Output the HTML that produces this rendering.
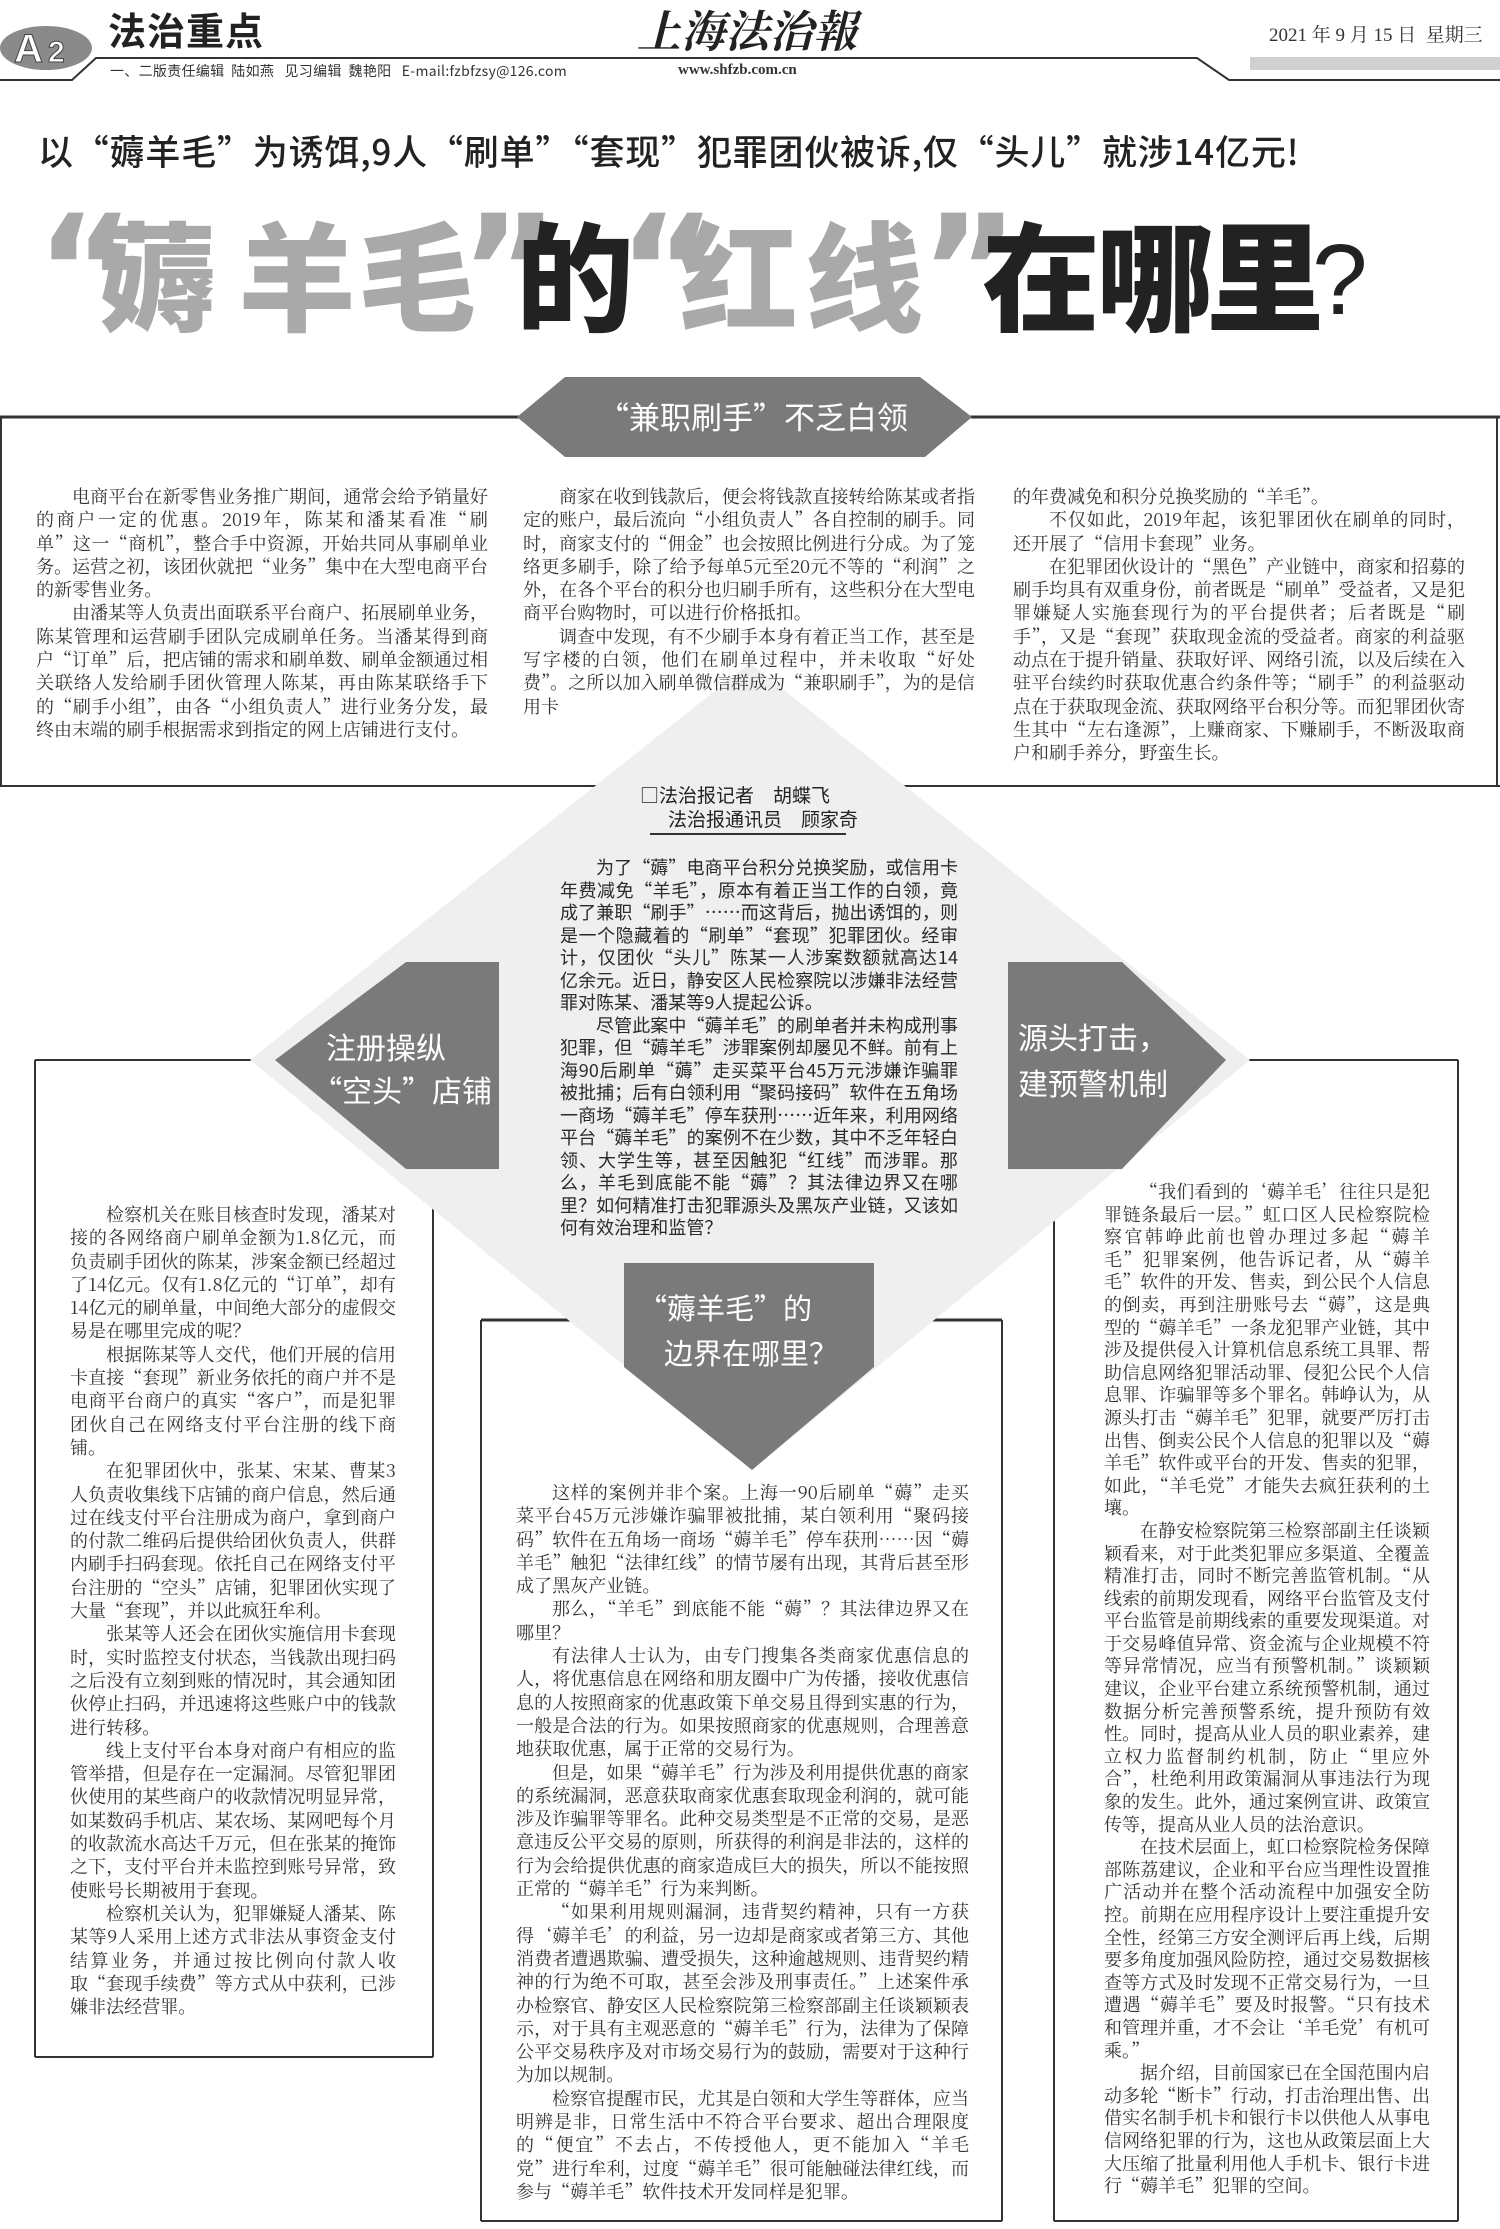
<!DOCTYPE html>
<html><head><meta charset="utf-8">
<style>
*{margin:0;padding:0;box-sizing:border-box}
html,body{width:1500px;height:2229px;background:#fff;overflow:hidden}
body{position:relative;font-family:"Noto Serif CJK SC","Liberation Serif",serif;color:#333}
.a{position:absolute}
.sans{font-family:"Noto Sans CJK SC","Liberation Sans",sans-serif}
.col p{text-align:justify;font-size:18px;letter-spacing:0.05px;line-height:23.3px;text-indent:36px}
.dia p{line-height:22.5px;font-family:"Noto Sans CJK SC","Liberation Sans",sans-serif;color:#2a2a2a}
.ban{color:#fff;font-family:"Noto Sans CJK SC","Liberation Sans",sans-serif;white-space:nowrap}
.t{position:absolute;top:196px;font-size:118px;line-height:150px;font-weight:900;font-family:"Noto Sans CJK SC",sans-serif}
.q{position:absolute;top:196px;font-size:150px;line-height:150px;font-weight:bold;font-family:"DejaVu Sans",sans-serif;color:#a9a9a9}
.g{color:#a9a9a9}.d{color:#222}
</style></head><body>

<svg class="a" style="left:0;top:0" width="1500" height="90">
<ellipse cx="46" cy="48" rx="46" ry="22" fill="#8a8a8a"/>
<text x="14" y="62" font-family="Liberation Sans" font-size="40" font-weight="bold" fill="#fff" stroke="#444" stroke-width="1">A</text>
<text x="48" y="62" font-family="Liberation Sans" font-size="30" font-weight="bold" fill="#fff" stroke="#444" stroke-width="1">2</text>
<polyline points="0,80 72,80 96,58 1197,58 1229,80 1500,80" fill="none" stroke="#333" stroke-width="2"/>
<rect x="1250" y="57" width="250" height="13" fill="#d0d0d0"/>
</svg>
<div class="a sans" style="left:108px;top:4px;font-size:38px;line-height:50px;font-weight:bold;letter-spacing:1px;color:#222">法治重点</div>
<div class="a" style="left:637px;top:0px;font-size:44px;line-height:56px;font-weight:bold;font-style:italic;color:#222;font-family:'Noto Serif CJK SC',serif">上海法治報</div>
<div class="a" style="left:1269px;top:22px;font-size:19px;line-height:28px;color:#333;white-space:nowrap;font-family:'Liberation Serif','Noto Serif CJK SC',serif">2021 年 9 月 15 日 &nbsp;星期三</div>
<div class="a sans" style="left:110px;top:61px;font-size:14px;line-height:20px;color:#333;white-space:nowrap;letter-spacing:0.3px">一、二版责任编辑 &nbsp;陆如燕 &nbsp;&nbsp;见习编辑 &nbsp;魏艳阳 &nbsp;&nbsp;E-mail:fzbfzsy@126.com</div>
<div class="a" style="left:678px;top:62px;font-size:15px;font-weight:bold;color:#333;font-family:'Liberation Serif',serif">www.shfzb.com.cn</div>

<div class="a sans" style="left:38px;top:126px;font-size:35px;line-height:50px;color:#222;white-space:nowrap;font-weight:500;letter-spacing:0.8px">以“薅羊毛”为诱饵,9人“刷单”“套现”犯罪团伙被诉,仅“头儿”就涉14亿元!</div>

<span class="q" style="left:36px">“</span>
<span class="t g" style="left:98px">薅</span>
<span class="t g" style="left:238px">羊</span>
<span class="t g" style="left:358px">毛</span>
<span class="q" style="left:460px">”</span>
<span class="t d" style="left:516px">的</span>
<span class="q" style="left:618px">“</span>
<span class="t g" style="left:680px">红</span>
<span class="t g" style="left:805px">线</span>
<span class="q" style="left:920px">”</span>
<span class="t d" style="left:982px">在</span>
<span class="t d" style="left:1096px">哪</span>
<span class="t d" style="left:1206px">里</span>
<span class="a" style="left:1312px;top:225px;font-size:100px;line-height:110px;color:#222;font-family:'Liberation Sans',sans-serif">?</span>

<svg class="a" style="left:0;top:0" width="1500" height="2229">
<line x1="0" y1="417" x2="1500" y2="417" stroke="#333" stroke-width="3"/>
<line x1="1" y1="417" x2="1" y2="786" stroke="#333" stroke-width="2"/>
<line x1="1497" y1="417" x2="1497" y2="786" stroke="#333" stroke-width="2"/>
<line x1="0" y1="786" x2="1500" y2="786" stroke="#333" stroke-width="2"/>
<line x1="35" y1="1060" x2="300" y2="1060" stroke="#333" stroke-width="2"/>
<line x1="35" y1="1060" x2="35" y2="2057" stroke="#333" stroke-width="2"/>
<line x1="433" y1="1060" x2="433" y2="2057" stroke="#333" stroke-width="2"/>
<line x1="35" y1="2057" x2="433" y2="2057" stroke="#333" stroke-width="2"/>
<line x1="1200" y1="1060" x2="1458" y2="1060" stroke="#333" stroke-width="2"/>
<line x1="1458" y1="1060" x2="1458" y2="2221" stroke="#333" stroke-width="2"/>
<line x1="1054" y1="1060" x2="1054" y2="2221" stroke="#333" stroke-width="2"/>
<line x1="1054" y1="2221" x2="1458" y2="2221" stroke="#333" stroke-width="2"/>
<line x1="481" y1="1320" x2="1002" y2="1320" stroke="#333" stroke-width="3"/>
<line x1="481" y1="1320" x2="481" y2="2221" stroke="#333" stroke-width="2"/>
<line x1="1002" y1="1320" x2="1002" y2="2221" stroke="#333" stroke-width="2"/>
<line x1="481" y1="2221" x2="1002" y2="2221" stroke="#333" stroke-width="2"/>
<polygon points="750,663 1250,1060 752,1470 250,1060" fill="#efefef"/>
<polygon points="565,377 920,377 972,417 925,457 565,457 517,417" fill="#7a7a7a"/>
<polygon points="406,962 499,962 499,1169 406,1169 275,1060" fill="#7a7a7a"/>
<polygon points="1008,962 1122,962 1226,1060 1122,1169 1008,1169" fill="#7a7a7a"/>
<polygon points="624,1263 874,1263 874,1367 752,1470 624,1367" fill="#7a7a7a"/>
<line x1="650" y1="834" x2="846" y2="834" stroke="#333" stroke-width="2"/>
</svg>

<div class="a ban" style="left:598px;top:394px;font-size:31px;line-height:44px">“兼职刷手”不乏白领</div>
<div class="a ban" style="left:326px;top:1024px;font-size:30px;line-height:44px">注册操纵</div>
<div class="a ban" style="left:312px;top:1067px;font-size:30px;line-height:44px">“空头”店铺</div>
<div class="a ban" style="left:1018px;top:1014px;font-size:30px;line-height:44px">源头打击，</div>
<div class="a ban" style="left:1018px;top:1060px;font-size:30px;line-height:44px">建预警机制</div>
<div class="a ban" style="left:638px;top:1286px;font-size:29px;line-height:42px">“薅羊毛”的</div>
<div class="a ban" style="left:664px;top:1331px;font-size:29px;line-height:42px">边界在哪里？</div>

<div class="a sans" style="left:640px;top:782px;font-size:19px;line-height:26px;color:#222;white-space:nowrap">□法治报记者　胡蝶飞</div>
<div class="a sans" style="left:668px;top:806px;font-size:19px;line-height:26px;color:#222;white-space:nowrap">法治报通讯员　顾家奇</div>

<div class="a col" style="left:36px;top:485px;width:452px">
<p>电商平台在新零售业务推广期间，通常会给予销量好的商户一定的优惠。2019年，陈某和潘某看准“刷单”这一“商机”，整合手中资源，开始共同从事刷单业务。运营之初，该团伙就把“业务”集中在大型电商平台的新零售业务。</p>
<p>由潘某等人负责出面联系平台商户、拓展刷单业务，陈某管理和运营刷手团队完成刷单任务。当潘某得到商户“订单”后，把店铺的需求和刷单数、刷单金额通过相关联络人发给刷手团伙管理人陈某，再由陈某联络手下的“刷手小组”，由各“小组负责人”进行业务分发，最终由末端的刷手根据需求到指定的网上店铺进行支付。</p>
</div>
<div class="a col" style="left:523px;top:485px;width:452px">
<p>商家在收到钱款后，便会将钱款直接转给陈某或者指定的账户，最后流向“小组负责人”各自控制的刷手。同时，商家支付的“佣金”也会按照比例进行分成。为了笼络更多刷手，除了给予每单5元至20元不等的“利润”之外，在各个平台的积分也归刷手所有，这些积分在大型电商平台购物时，可以进行价格抵扣。</p>
<p>调查中发现，有不少刷手本身有着正当工作，甚至是写字楼的白领，他们在刷单过程中，并未收取“好处费”。之所以加入刷单微信群成为“兼职刷手”，为的是信用卡</p>
</div>
<div class="a col" style="left:1013px;top:485px;width:452px">
<p style="text-indent:0">的年费减免和积分兑换奖励的“羊毛”。</p>
<p>不仅如此，2019年起，该犯罪团伙在刷单的同时，还开展了“信用卡套现”业务。</p>
<p>在犯罪团伙设计的“黑色”产业链中，商家和招募的刷手均具有双重身份，前者既是“刷单”受益者，又是犯罪嫌疑人实施套现行为的平台提供者；后者既是“刷手”，又是“套现”获取现金流的受益者。商家的利益驱动点在于提升销量、获取好评、网络引流，以及后续在入驻平台续约时获取优惠合约条件等；“刷手”的利益驱动点在于获取现金流、获取网络平台积分等。而犯罪团伙寄生其中“左右逢源”，上赚商家、下赚刷手，不断汲取商户和刷手养分，野蛮生长。</p>
</div>

<div class="a col dia" style="left:560px;top:856px;width:398px">
<p>为了“薅”电商平台积分兑换奖励，或信用卡年费减免“羊毛”，原本有着正当工作的白领，竟成了兼职“刷手”……而这背后，抛出诱饵的，则是一个隐藏着的“刷单”“套现”犯罪团伙。经审计，仅团伙“头儿”陈某一人涉案数额就高达14亿余元。近日，静安区人民检察院以涉嫌非法经营罪对陈某、潘某等9人提起公诉。</p>
<p>尽管此案中“薅羊毛”的刷单者并未构成刑事犯罪，但“薅羊毛”涉罪案例却屡见不鲜。前有上海90后刷单“薅”走买菜平台45万元涉嫌诈骗罪被批捕；后有白领利用“聚码接码”软件在五角场一商场“薅羊毛”停车获刑……近年来，利用网络平台“薅羊毛”的案例不在少数，其中不乏年轻白领、大学生等，甚至因触犯“红线”而涉罪。那么，羊毛到底能不能“薅”？其法律边界又在哪里？如何精准打击犯罪源头及黑灰产业链，又该如何有效治理和监管？</p>
</div>

<div class="a col" style="left:70px;top:1203px;width:326px">
<p>检察机关在账目核查时发现，潘某对接的各网络商户刷单金额为1.8亿元，而负责刷手团伙的陈某，涉案金额已经超过了14亿元。仅有1.8亿元的“订单”，却有14亿元的刷单量，中间绝大部分的虚假交易是在哪里完成的呢？</p>
<p>根据陈某等人交代，他们开展的信用卡直接“套现”新业务依托的商户并不是电商平台商户的真实“客户”，而是犯罪团伙自己在网络支付平台注册的线下商铺。</p>
<p>在犯罪团伙中，张某、宋某、曹某3人负责收集线下店铺的商户信息，然后通过在线支付平台注册成为商户，拿到商户的付款二维码后提供给团伙负责人，供群内刷手扫码套现。依托自己在网络支付平台注册的“空头”店铺，犯罪团伙实现了大量“套现”，并以此疯狂牟利。</p>
<p>张某等人还会在团伙实施信用卡套现时，实时监控支付状态，当钱款出现扫码之后没有立刻到账的情况时，其会通知团伙停止扫码，并迅速将这些账户中的钱款进行转移。</p>
<p>线上支付平台本身对商户有相应的监管举措，但是存在一定漏洞。尽管犯罪团伙使用的某些商户的收款情况明显异常，如某数码手机店、某农场、某网吧每个月的收款流水高达千万元，但在张某的掩饰之下，支付平台并未监控到账号异常，致使账号长期被用于套现。</p>
<p>检察机关认为，犯罪嫌疑人潘某、陈某等9人采用上述方式非法从事资金支付结算业务，并通过按比例向付款人收取“套现手续费”等方式从中获利，已涉嫌非法经营罪。</p>
</div>

<div class="a col" style="left:516px;top:1481px;width:453px">
<p>这样的案例并非个案。上海一90后刷单“薅”走买菜平台45万元涉嫌诈骗罪被批捕，某白领利用“聚码接码”软件在五角场一商场“薅羊毛”停车获刑……因“薅羊毛”触犯“法律红线”的情节屡有出现，其背后甚至形成了黑灰产业链。</p>
<p>那么，“羊毛”到底能不能“薅”？其法律边界又在哪里？</p>
<p>有法律人士认为，由专门搜集各类商家优惠信息的人，将优惠信息在网络和朋友圈中广为传播，接收优惠信息的人按照商家的优惠政策下单交易且得到实惠的行为，一般是合法的行为。如果按照商家的优惠规则，合理善意地获取优惠，属于正常的交易行为。</p>
<p>但是，如果“薅羊毛”行为涉及利用提供优惠的商家的系统漏洞，恶意获取商家优惠套取现金利润的，就可能涉及诈骗罪等罪名。此种交易类型是不正常的交易，是恶意违反公平交易的原则，所获得的利润是非法的，这样的行为会给提供优惠的商家造成巨大的损失，所以不能按照正常的“薅羊毛”行为来判断。</p>
<p>“如果利用规则漏洞，违背契约精神，只有一方获得‘薅羊毛’的利益，另一边却是商家或者第三方、其他消费者遭遇欺骗、遭受损失，这种逾越规则、违背契约精神的行为绝不可取，甚至会涉及刑事责任。”上述案件承办检察官、静安区人民检察院第三检察部副主任谈颖颖表示，对于具有主观恶意的“薅羊毛”行为，法律为了保障公平交易秩序及对市场交易行为的鼓励，需要对于这种行为加以规制。</p>
<p>检察官提醒市民，尤其是白领和大学生等群体，应当明辨是非，日常生活中不符合平台要求、超出合理限度的“便宜”不去占，不传授他人，更不能加入“羊毛党”进行牟利，过度“薅羊毛”很可能触碰法律红线，而参与“薅羊毛”软件技术开发同样是犯罪。</p>
</div>

<div class="a col" style="left:1104px;top:1180px;width:326px">
<p style="line-height:22.6px">“我们看到的‘薅羊毛’往往只是犯罪链条最后一层。”虹口区人民检察院检察官韩峥此前也曾办理过多起“薅羊毛”犯罪案例，他告诉记者，从“薅羊毛”软件的开发、售卖，到公民个人信息的倒卖，再到注册账号去“薅”，这是典型的“薅羊毛”一条龙犯罪产业链，其中涉及提供侵入计算机信息系统工具罪、帮助信息网络犯罪活动罪、侵犯公民个人信息罪、诈骗罪等多个罪名。韩峥认为，从源头打击“薅羊毛”犯罪，就要严厉打击出售、倒卖公民个人信息的犯罪以及“薅羊毛”软件或平台的开发、售卖的犯罪，如此，“羊毛党”才能失去疯狂获利的土壤。</p>
<p style="line-height:22.6px">在静安检察院第三检察部副主任谈颖颖看来，对于此类犯罪应多渠道、全覆盖精准打击，同时不断完善监管机制。“从线索的前期发现看，网络平台监管及支付平台监管是前期线索的重要发现渠道。对于交易峰值异常、资金流与企业规模不符等异常情况，应当有预警机制。”谈颖颖建议，企业平台建立系统预警机制，通过数据分析完善预警系统，提升预防有效性。同时，提高从业人员的职业素养，建立权力监督制约机制，防止“里应外合”，杜绝利用政策漏洞从事违法行为现象的发生。此外，通过案例宣讲、政策宣传等，提高从业人员的法治意识。</p>
<p style="line-height:22.6px">在技术层面上，虹口检察院检务保障部陈荔建议，企业和平台应当理性设置推广活动并在整个活动流程中加强安全防控。前期在应用程序设计上要注重提升安全性，经第三方安全测评后再上线，后期要多角度加强风险防控，通过交易数据核查等方式及时发现不正常交易行为，一旦遭遇“薅羊毛”要及时报警。“只有技术和管理并重，才不会让‘羊毛党’有机可乘。”</p>
<p style="line-height:22.6px">据介绍，目前国家已在全国范围内启动多轮“断卡”行动，打击治理出售、出借实名制手机卡和银行卡以供他人从事电信网络犯罪的行为，这也从政策层面上大大压缩了批量利用他人手机卡、银行卡进行“薅羊毛”犯罪的空间。</p>
</div>

</body></html>
